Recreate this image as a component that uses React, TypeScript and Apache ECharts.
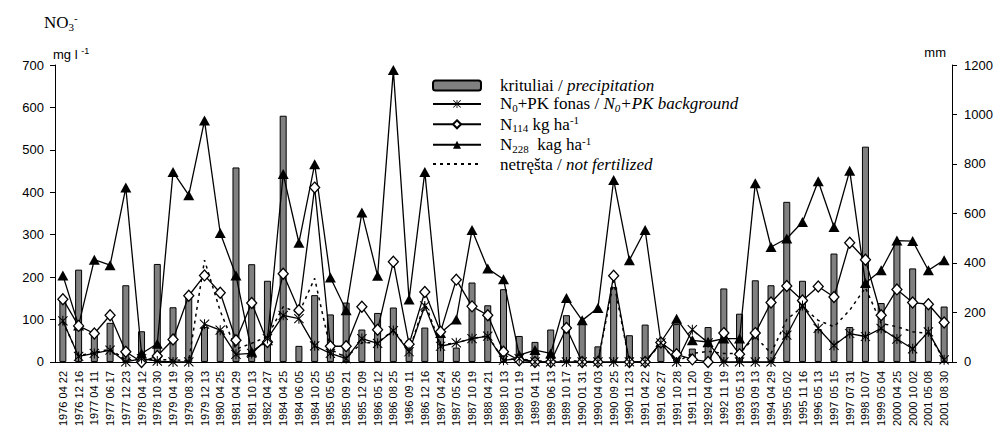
import React, { useEffect, useRef } from "react";
import * as echarts from "echarts";

const categories = [
  "1976 04 22", "1976 12 16", "1977 04 11", "1977 06 17", "1977 12 23", "1978 04 12", "1978 10 30",
  "1979 04 19", "1979 08 30", "1979 12 13", "1980 04 25", "1981 04 29", "1981 10 13", "1982 04 27",
  "1984 04 25", "1984 06 05", "1984 10 25", "1985 05 05", "1985 09 21", "1985 12 09", "1986 05 12",
  "1986 08 25", "1986 09 11", "1986 12 16", "1987 04 24", "1987 05 26", "1987 10 19", "1988 04 21",
  "1988 10 13", "1989 01 19", "1989 04 11", "1989 06 13", "1989 10 17", "1990 01 31", "1990 04 03",
  "1990 09 25", "1990 11 23", "1991 04 22", "1991 06 27", "1991 10 28", "1991 11 20", "1992 04 09",
  "1992 11 19", "1993 05 13", "1993 09 13", "1994 04 29", "1995 05 02", "1995 11 16", "1996 05 13",
  "1997 05 15", "1997 07 31", "1998 10 07", "1999 05 04", "2000 04 25", "2000 10 02", "2001 05 08",
  "2001 08 30",
];

// precipitation, mm (right axis)
const precipitation = [
  255, 373, 108, 158, 310, 124, 396, 221, 260, 141, 128, 786, 395, 328,
  995, 65, 270, 192, 240, 131, 198, 220, 87, 139, 128, 58, 321, 229,
  294, 105, 81, 131, 189, 165, 63, 302, 108, 151, 85, 153, 54, 141,
  297, 195, 330, 310, 647, 328, 133, 438, 141, 870, 238, 481, 378, 222,
  224,
];

// N0+PK background, mg/l
const background = [
  97, 13, 20, 28, 0, 8, 2, 0, 0, 89, 75, 18, 20, 55,
  110, 102, 38, 20, 8, 55, 44, 74, 24, 132, 37, 45, 55, 61,
  4, 8, 0, 0, 0, 0, 0, 0, 0, 0, 45, 0, 76, 45,
  0, 0, 0, 0, 63, 133, 79, 39, 67, 60, 79, 54, 31, 71,
  5,
];

// N114 kg/ha
const n114 = [
  148, 85, 67, 110, 24, 0, 14, 53, 156, 204, 163, 51, 139, 47,
  208, 122, 411, 37, 37, 130, 76, 236, 42, 165, 71, 194, 131, 110,
  24, 4, 0, 0, 80, 0, 0, 203, 0, 0, 46, 18, 6, 0,
  68, 18, 68, 140, 179, 145, 178, 153, 281, 241, 110, 171, 140, 136,
  93,
];

// N228 kg/ha
const n228 = [
  204, 86, 241, 228, 411, 20, 43, 448, 393, 569, 304, 204, 24, 51,
  443, 281, 466, 199, 122, 352, 203, 688, 147, 448, 68, 100, 311, 220,
  195, 16, 28, 20, 151, 98, 127, 429, 240, 311, 47, 102, 51, 47,
  55, 55, 421, 271, 291, 330, 426, 318, 451, 186, 216, 286, 285, 216,
  240,
];

// not fertilized
const notFertilized = [
  95, 15, 22, 30, 5, 5, 5, 5, 3, 240, 120, 30, 44, 60,
  130, 115, 197, 30, 10, 45, 45, 75, 25, 140, 40, 45, 55, 62,
  5, 8, 2, 2, 2, 2, 0, 190, 0, 0, 43, 0, 20, 25,
  20, 20, 60, 20, 100, 130, 98, 83, 122, 175, 91, 83, 71, 67,
  5,
];

const leftAxis = { min: 0, max: 700, interval: 100 };
const rightAxis = { min: 0, max: 1200, interval: 200 };

const SERIF = "'Liberation Serif', 'Times New Roman', serif";
const SANS = "'Liberation Sans', Arial, sans-serif";

const ASTERISK =
  "path://M9 0L11 0L11 20L9 20Z M1.7 0.3L19.7 18.3L18.3 19.7L0.3 1.7Z M18.3 0.3L19.7 1.7L1.7 19.7L0.3 18.3Z";

const legendLabels: Record<string, string> = {
  krituliai: "{sp|}{r|krituliai / }{i|precipitation}",
  N0: "{sp|}{r|N}{sub|0}{r|+PK fonas / }{i|N}{isub|0}{i|+PK background}",
  N114: "{sp|}{r|N}{sub|114}{r| kg ha}{sup|-1}",
  N228: "{sp|}{r|N}{sub|228}{r|  kag ha}{sup|-1}",
  netresta: "{sp|}{r|netręšta / }{i|not fertilized}",
};

export default function App() {
  const ref = useRef<HTMLDivElement>(null);

  useEffect(() => {
    if (!ref.current) return;
    const chart = echarts.init(ref.current, undefined, { renderer: "svg" });
    const lh = 19;
    chart.setOption({
      animation: false,
      backgroundColor: "#fff",
      grid: { left: 55, right: 47, top: 65, bottom: 67, containLabel: false },
      legend: {
        orient: "vertical",
        left: 432,
        top: 77,
        padding: 0,
        itemGap: 1.4,
        itemWidth: 48,
        itemHeight: 10,
        data: [
          "krituliai",
          "N0",
          "N114",
          "N228",
          { name: "netresta", itemStyle: { opacity: 0 } },
        ],
        formatter: (name: string) => legendLabels[name],
        textStyle: {
          fontFamily: SERIF,
          fontSize: 17,
          color: "#000",
          rich: {
            sp: { width: 14 },
            r: { fontFamily: SERIF, fontSize: 17, color: "#000", lineHeight: lh },
            i: { fontFamily: SERIF, fontSize: 17, fontStyle: "italic", color: "#000", lineHeight: lh },
            sub: { fontFamily: SERIF, fontSize: 11, color: "#000", verticalAlign: "bottom", lineHeight: lh },
            isub: { fontFamily: SERIF, fontSize: 11, fontStyle: "italic", color: "#000", verticalAlign: "bottom", lineHeight: lh },
            sup: { fontFamily: SERIF, fontSize: 11, color: "#000", verticalAlign: "top", lineHeight: lh },
          },
        },
      },
      xAxis: {
        type: "category",
        data: categories,
        boundaryGap: true,
        axisLine: { lineStyle: { color: "#000", width: 1 } },
        axisTick: { interval: 0, alignWithLabel: false, length: 4, lineStyle: { color: "#000" } },
        axisLabel: {
          interval: 0,
          rotate: 90,
          fontSize: 11,
          fontFamily: SANS,
          color: "#000",
          margin: 9,
        },
        splitLine: { show: false },
      },
      yAxis: [
        {
          type: "value",
          ...leftAxis,
          axisLine: { show: true, lineStyle: { color: "#000", width: 1 } },
          axisTick: { show: true, length: 5, lineStyle: { color: "#000" } },
          axisLabel: { fontSize: 13, fontFamily: SANS, color: "#000", margin: 11, formatter: (v: number) => String(v) },
          splitLine: { show: false },
        },
        {
          type: "value",
          position: "right",
          ...rightAxis,
          axisLine: { show: true, lineStyle: { color: "#000", width: 1 } },
          axisTick: { show: true, length: 5, lineStyle: { color: "#000" } },
          axisLabel: { fontSize: 13, fontFamily: SANS, color: "#000", margin: 12, formatter: (v: number) => String(v) },
          splitLine: { show: false },
        },
      ],
      graphic: [
        {
          type: "text",
          left: 44,
          top: 12,
          style: {
            text: "{a|NO}{b|3}{c|-}",
            rich: {
              a: { fontFamily: SERIF, fontSize: 17, fill: "#000", lineHeight: 20 },
              b: { fontFamily: SERIF, fontSize: 11, fill: "#000", verticalAlign: "bottom", lineHeight: 20 },
              c: { fontFamily: SERIF, fontSize: 11, fill: "#000", verticalAlign: "top", lineHeight: 20 },
            },
          },
        },
        {
          type: "text",
          left: 53,
          top: 46,
          style: {
            text: "{a|mg l }{s|-1}",
            rich: {
              a: { fontFamily: SANS, fontSize: 13, fill: "#000", lineHeight: 16 },
              s: { fontFamily: SANS, fontSize: 9, fill: "#000", verticalAlign: "top", lineHeight: 16 },
            },
          },
        },
        {
          type: "text",
          right: 53,
          top: 46,
          style: { text: "mm", fontFamily: SANS, fontSize: 13, fill: "#000" },
        },
      ],
      series: [
        {
          name: "krituliai",
          type: "bar",
          yAxisIndex: 1,
          data: precipitation,
          barWidth: 7,
          itemStyle: { color: "#808080", borderColor: "#000", borderWidth: 1 },
        },
        {
          name: "netresta",
          type: "line",
          data: notFertilized,
          symbol: "none",
          lineStyle: { color: "#000", width: 1.5, type: [3, 4] },
          itemStyle: { color: "#000" },
        },
        {
          name: "N228",
          type: "line",
          data: n228,
          symbol: "triangle",
          symbolSize: [11, 10],
          lineStyle: { color: "#000", width: 1.3 },
          itemStyle: { color: "#000", borderColor: "#000", borderWidth: 0 },
        },
        {
          name: "N114",
          type: "line",
          data: n114,
          symbol: "diamond",
          symbolSize: [10, 11],
          lineStyle: { color: "#000", width: 1.3 },
          itemStyle: { color: "#fff", borderColor: "#000", borderWidth: 1.3 },
        },
        {
          name: "N0",
          type: "line",
          data: background,
          symbol: ASTERISK,
          symbolSize: 10,
          lineStyle: { color: "#000", width: 1.3 },
          itemStyle: { color: "#000", borderWidth: 0 },
        },
      ],
    });
    return () => chart.dispose();
  }, []);

  return <div ref={ref} style={{ width: 999, height: 429, position: "absolute", left: 0, top: 0 }} />;
}
